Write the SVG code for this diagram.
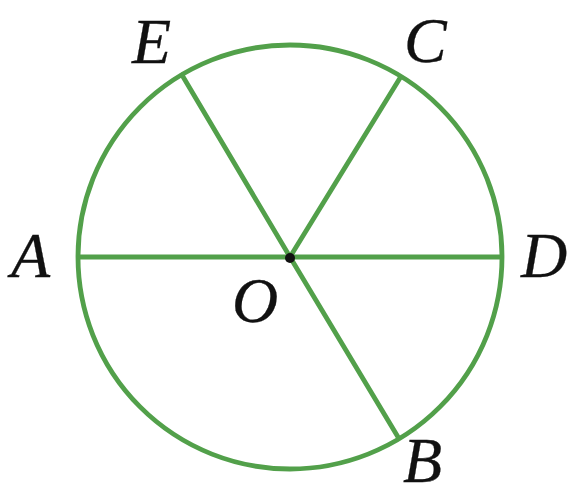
<svg xmlns="http://www.w3.org/2000/svg" width="571" height="496" viewBox="0 0 571 496">
<style>
.g{fill:none;stroke:#52a04a;stroke-width:4.8;stroke-linecap:round}
.t{font-family:"Liberation Serif","DejaVu Serif",serif;font-style:italic;font-size:64px;fill:#111;stroke:#111;stroke-width:0.3}
</style>
<rect width="571" height="496" fill="#fff"/>
<g id="circle"><circle class="g" cx="290" cy="257" r="212"/></g>
<g id="connectors">
<line class="g" x1="79" y1="257" x2="501" y2="257"/>
<line class="g" x1="290" y1="257" x2="182" y2="75"/>
<line class="g" x1="290" y1="257" x2="400" y2="78"/>
<line class="g" x1="290" y1="257" x2="398" y2="437"/>
</g>
<g id="O"><circle cx="290" cy="258" r="5" fill="#111"/><text class="t" x="232" y="322">O</text></g>
<g id="A"><text class="t" x="11" y="277">A</text></g>
<g id="D"><text class="t" x="521" y="277">D</text></g>
<g id="E"><text class="t" x="132" y="63">E</text></g>
<g id="C"><text class="t" x="404" y="62">C</text></g>
<g id="B"><text class="t" x="403" y="482">B</text></g>
</svg>
